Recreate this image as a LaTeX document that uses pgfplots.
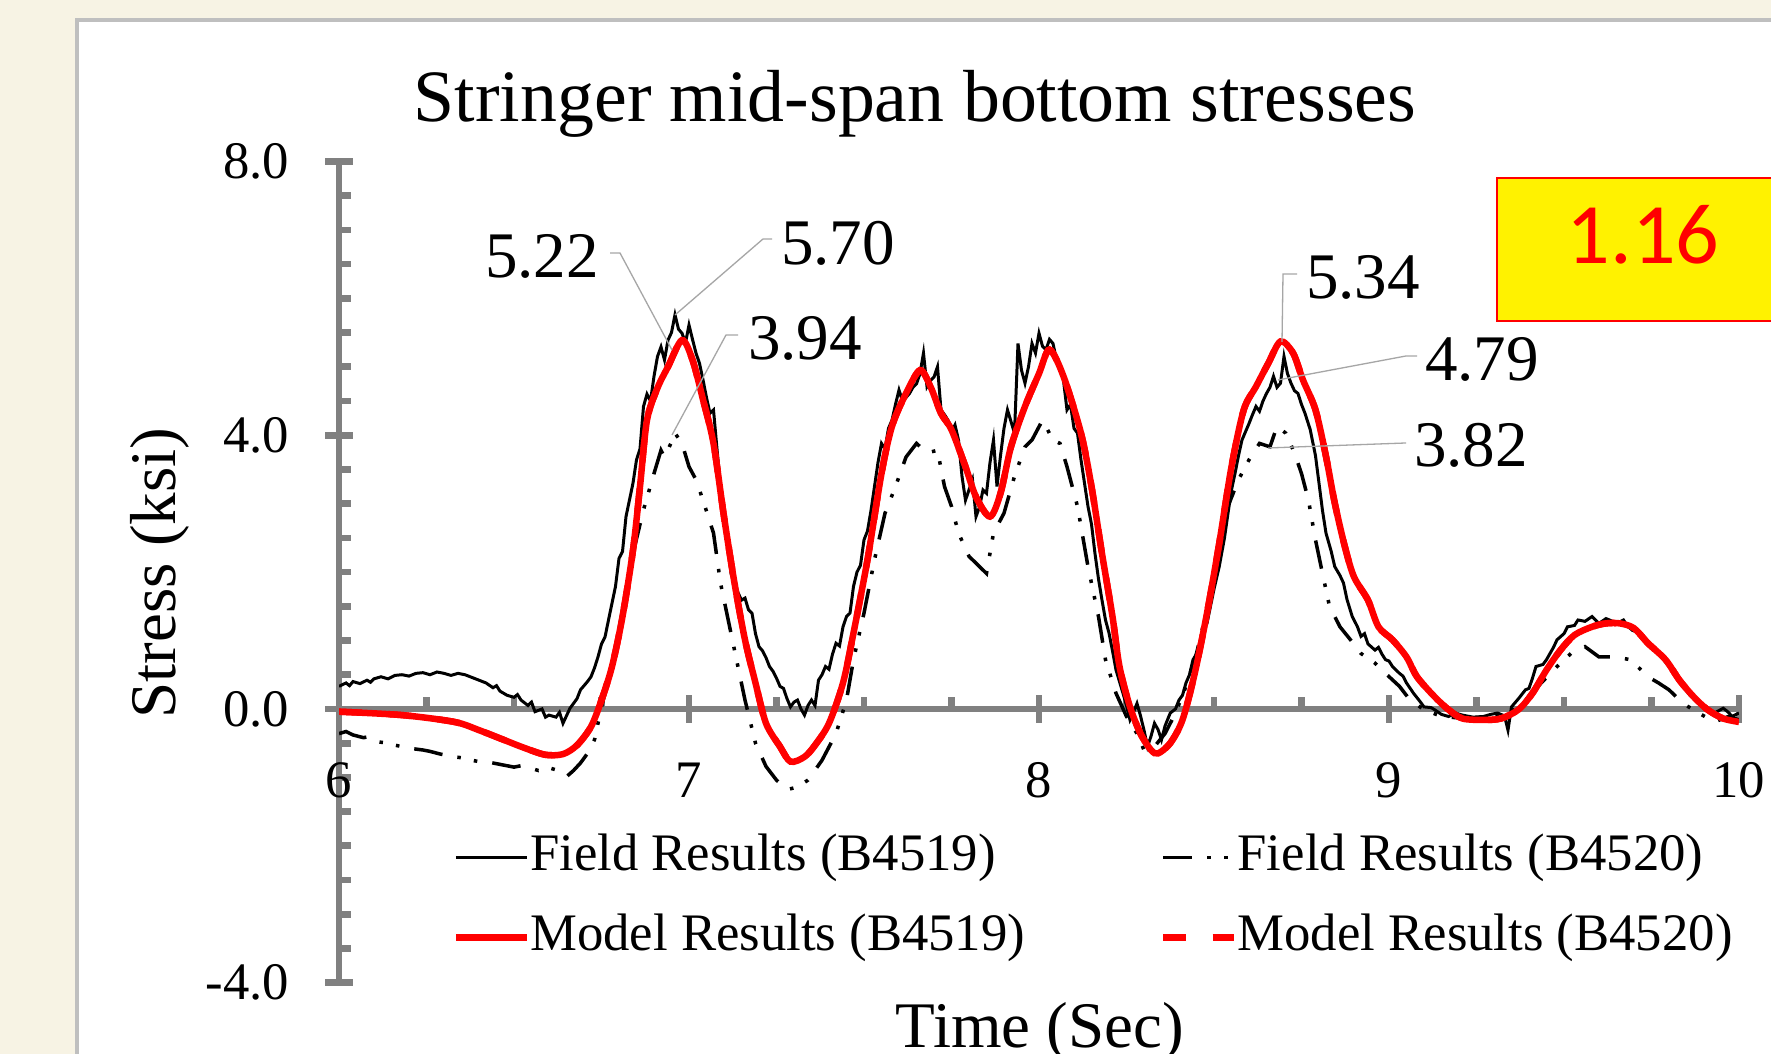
\documentclass[border=0pt]{standalone}
\usepackage{fontspec}
\setmainfont{Liberation Serif}
\newfontfamily\calibri{Carlito}
\usepackage{pgfplots}
\pgfplotsset{compat=1.18}
\definecolor{bgbeige}{HTML}{F7F3E4}
\definecolor{panelgray}{HTML}{BFBFBF}
\definecolor{axgray}{HTML}{808080}
\definecolor{leadgray}{HTML}{A6A6A6}
\begin{document}
\begin{tikzpicture}
\begin{scope}[x=0.1mm,y=-0.1mm,shift={(-339,-982.7)}]
\useasboundingbox (0,0) rectangle (1771,1054);
\clip (0,0) rectangle (1771,1054);
\fill[bgbeige] (0,0) rectangle (1771,1054);
\fill[white] (77,20) rectangle (1800,1100);
\draw[panelgray,line width=0.45mm] (77,1100) -- (77,20) -- (1800,20);
\end{scope}
\begin{axis}[
  at={(0,0)}, anchor=south west,
  scale only axis, width=140mm, height=82.12mm,
  xmin=6, xmax=10, ymin=-4, ymax=8,
  axis x line*=middle, axis y line*=left,
  hide obscured x ticks=false, hide obscured y ticks=false,
  axis line style={draw=axgray, line width=1.9pt},
  xtick={6,7,8,9,10}, xticklabels={6,7,8,9,10},
  ytick={-4,0,4,8}, yticklabels={-4.0,0.0,4.0,8.0},
  minor x tick num=3, minor y tick num=7,
  tick align=center,
  major tick length=2.8mm, minor tick length=1.15mm,
  tick style={draw=axgray, line width=1.9pt},
  minor x tick style={yshift=0.575mm},
  minor y tick style={xshift=0.575mm},
  xticklabel style={anchor=north, inner sep=0pt, yshift=-3.9mm, font=\fontsize{15}{18}\selectfont},
  yticklabel style={anchor=east, inner sep=0pt, xshift=-3.5mm, font=\fontsize{15}{18}\selectfont},
  legend columns=2,
  legend cell align=left,
  legend image code/.code={\draw[#1] (0mm,0mm) -- (7.1mm,0mm);},
  legend style={at={(0.0807,0.1835)}, anchor=north west, draw=none, fill=none, inner sep=0pt,
    row sep=3mm, column sep=0mm,
    nodes={inner sep=0pt, anchor=west, font=\fontsize{15}{18}\selectfont, text height=3.8mm, text depth=1.2mm},
    /tikz/every even column/.append style={column sep=13.5mm}},
]
\addplot[black, line width=0.85pt] coordinates {
(6.00,0.33)(6.02,0.38)(6.03,0.34)(6.04,0.40)(6.06,0.37)(6.08,0.42)(6.09,0.39)(6.10,0.44)(6.12,0.47)(6.14,0.44)(6.16,0.49)(6.18,0.50)(6.20,0.48)(6.22,0.52)(6.24,0.53)(6.26,0.50)(6.28,0.54)(6.30,0.52)(6.32,0.49)(6.34,0.52)(6.36,0.50)(6.38,0.46)(6.40,0.42)(6.42,0.38)(6.44,0.31)(6.45,0.34)(6.46,0.26)(6.48,0.20)(6.50,0.17)(6.51,0.21)(6.52,0.13)(6.54,0.05)(6.55,0.10)(6.56,-0.04)(6.58,0.00)(6.59,-0.12)(6.60,-0.09)(6.62,-0.12)(6.63,-0.05)(6.64,-0.21)(6.66,0.01)(6.68,0.15)(6.69,0.28)(6.71,0.40)(6.72,0.47)(6.73,0.60)(6.74,0.76)(6.75,0.95)(6.76,1.05)(6.77,1.30)(6.79,1.79)(6.80,2.20)(6.81,2.30)(6.82,2.81)(6.84,3.30)(6.85,3.64)(6.86,3.80)(6.87,4.42)(6.88,4.60)(6.89,4.50)(6.90,4.86)(6.91,5.15)(6.92,5.29)(6.93,5.10)(6.94,5.39)(6.95,5.50)(6.96,5.76)(6.97,5.55)(6.98,5.49)(6.99,5.35)(7.00,5.61)(7.01,5.40)(7.02,5.20)(7.03,5.05)(7.04,4.81)(7.05,4.55)(7.06,4.32)(7.07,4.37)(7.08,3.80)(7.09,3.25)(7.10,2.80)(7.11,2.50)(7.12,1.98)(7.13,1.85)(7.14,1.70)(7.15,1.59)(7.16,1.62)(7.17,1.45)(7.18,1.40)(7.19,1.10)(7.20,0.91)(7.21,0.85)(7.22,0.75)(7.23,0.62)(7.24,0.55)(7.25,0.45)(7.26,0.33)(7.27,0.30)(7.28,0.15)(7.29,0.03)(7.30,0.10)(7.31,0.13)(7.32,0.00)(7.33,-0.09)(7.34,0.05)(7.35,0.13)(7.36,0.05)(7.37,0.42)(7.38,0.50)(7.39,0.62)(7.40,0.58)(7.41,0.80)(7.42,0.96)(7.43,0.92)(7.44,1.20)(7.45,1.35)(7.46,1.40)(7.47,1.79)(7.48,2.00)(7.49,2.10)(7.50,2.47)(7.51,2.60)(7.52,2.90)(7.53,3.25)(7.54,3.60)(7.55,3.88)(7.56,3.80)(7.57,4.10)(7.58,4.22)(7.59,4.45)(7.60,4.66)(7.61,4.50)(7.62,4.55)(7.63,4.61)(7.64,4.70)(7.65,4.75)(7.66,4.90)(7.67,5.20)(7.68,4.71)(7.69,4.80)(7.70,4.85)(7.71,5.00)(7.72,4.37)(7.73,4.30)(7.74,4.22)(7.75,4.05)(7.76,4.15)(7.77,3.93)(7.78,3.40)(7.79,3.05)(7.80,3.20)(7.81,3.35)(7.82,2.81)(7.83,2.95)(7.84,3.20)(7.85,3.15)(7.86,3.60)(7.87,3.93)(7.88,3.25)(7.89,3.70)(7.90,4.10)(7.91,4.37)(7.92,4.20)(7.93,4.03)(7.94,5.34)(7.95,4.95)(7.96,4.76)(7.97,5.00)(7.98,5.34)(7.99,5.20)(8.00,5.49)(8.01,5.30)(8.02,5.25)(8.03,5.40)(8.04,5.34)(8.05,5.10)(8.06,5.00)(8.07,4.80)(8.08,4.37)(8.09,4.45)(8.10,4.10)(8.11,4.03)(8.12,3.64)(8.13,3.30)(8.14,2.96)(8.15,2.70)(8.16,2.27)(8.17,1.90)(8.18,1.59)(8.19,1.30)(8.20,1.11)(8.21,0.85)(8.22,0.57)(8.23,0.40)(8.24,0.23)(8.25,0.05)(8.26,-0.16)(8.27,-0.05)(8.28,0.08)(8.29,-0.10)(8.30,-0.31)(8.31,-0.55)(8.32,-0.40)(8.33,-0.21)(8.34,-0.30)(8.35,-0.45)(8.36,-0.25)(8.375,-0.06)(8.39,0.00)(8.40,0.13)(8.41,0.20)(8.42,0.38)(8.43,0.50)(8.44,0.72)(8.45,0.80)(8.46,0.95)(8.47,1.15)(8.48,1.25)(8.49,1.50)(8.50,1.75)(8.515,2.08)(8.53,2.50)(8.54,2.86)(8.55,3.20)(8.56,3.44)(8.57,3.70)(8.58,3.93)(8.59,4.05)(8.60,4.17)(8.61,4.30)(8.62,4.42)(8.63,4.35)(8.64,4.50)(8.65,4.61)(8.66,4.70)(8.67,4.86)(8.68,4.70)(8.69,4.76)(8.70,5.15)(8.71,4.90)(8.72,4.76)(8.73,4.65)(8.74,4.61)(8.75,4.45)(8.76,4.32)(8.775,4.08)(8.79,3.70)(8.80,3.30)(8.81,2.90)(8.82,2.57)(8.835,2.30)(8.845,2.08)(8.86,1.95)(8.87,1.84)(8.88,1.60)(8.895,1.35)(8.91,1.20)(8.92,1.06)(8.93,1.10)(8.94,0.95)(8.96,0.86)(8.97,0.90)(8.98,0.80)(8.99,0.72)(9.00,0.70)(9.01,0.62)(9.03,0.52)(9.04,0.48)(9.05,0.38)(9.07,0.23)(9.09,0.10)(9.10,0.03)(9.12,0.02)(9.13,-0.01)(9.15,-0.08)(9.17,-0.11)(9.19,-0.06)(9.21,-0.09)(9.24,-0.12)(9.27,-0.11)(9.29,-0.08)(9.31,-0.06)(9.33,-0.10)(9.34,-0.31)(9.35,0.03)(9.37,0.15)(9.39,0.28)(9.40,0.30)(9.41,0.45)(9.42,0.62)(9.44,0.65)(9.45,0.72)(9.47,0.90)(9.48,1.01)(9.50,1.10)(9.51,1.20)(9.53,1.22)(9.54,1.30)(9.56,1.28)(9.58,1.35)(9.59,1.30)(9.60,1.25)(9.62,1.32)(9.63,1.30)(9.65,1.25)(9.67,1.30)(9.68,1.22)(9.695,1.15)(9.71,1.12)(9.72,1.06)(9.74,0.95)(9.76,0.86)(9.78,0.75)(9.80,0.62)(9.82,0.48)(9.84,0.33)(9.86,0.20)(9.885,0.08)(9.91,0.00)(9.93,-0.06)(9.955,0.01)(9.97,-0.05)(9.98,-0.11)(10.00,-0.06)
};
\addlegendentry{Field Results (B4519)}
\addplot[black, line width=1pt, dash pattern=on 8.2pt off 4.3pt on 1pt off 3.8pt on 1pt off 4.3pt] coordinates {
(6.00,-0.36)(6.02,-0.33)(6.04,-0.38)(6.07,-0.42)(6.09,-0.40)(6.11,-0.48)(6.14,-0.50)(6.16,-0.53)(6.18,-0.55)(6.21,-0.58)(6.24,-0.60)(6.26,-0.62)(6.29,-0.66)(6.31,-0.68)(6.33,-0.70)(6.36,-0.72)(6.38,-0.75)(6.40,-0.77)(6.43,-0.78)(6.45,-0.80)(6.47,-0.82)(6.50,-0.85)(6.52,-0.83)(6.55,-0.87)(6.57,-0.90)(6.60,-0.86)(6.62,-0.89)(6.64,-0.95)(6.65,-0.99)(6.67,-0.90)(6.69,-0.79)(6.71,-0.65)(6.73,-0.45)(6.75,0.03)(6.78,0.62)(6.81,1.45)(6.84,2.27)(6.87,2.91)(6.90,3.44)(6.92,3.78)(6.93,3.68)(6.95,3.90)(6.96,4.03)(6.98,3.88)(7.00,3.54)(7.02,3.35)(7.04,3.05)(7.07,2.57)(7.09,1.84)(7.11,1.35)(7.13,0.86)(7.16,0.13)(7.19,-0.50)(7.22,-0.84)(7.25,-1.04)(7.28,-1.18)(7.31,-1.14)(7.34,-1.04)(7.38,-0.75)(7.42,-0.36)(7.45,0.13)(7.47,0.72)(7.50,1.40)(7.53,2.18)(7.56,2.86)(7.59,3.25)(7.62,3.68)(7.65,3.88)(7.68,3.74)(7.71,3.78)(7.73,3.25)(7.75,2.96)(7.77,2.57)(7.80,2.23)(7.83,2.08)(7.85,1.98)(7.87,2.57)(7.90,2.86)(7.93,3.40)(7.96,3.83)(7.98,3.93)(8.01,4.22)(8.04,3.93)(8.06,3.88)(8.08,3.54)(8.11,2.96)(8.14,2.08)(8.17,1.35)(8.19,0.72)(8.22,0.23)(8.25,-0.11)(8.28,-0.36)(8.30,-0.60)(8.33,-0.55)(8.36,-0.36)(8.39,-0.06)(8.42,0.33)(8.45,0.81)(8.48,1.45)(8.515,2.27)(8.54,2.96)(8.57,3.35)(8.60,3.64)(8.63,3.88)(8.66,3.83)(8.68,4.13)(8.705,4.03)(8.73,3.74)(8.75,3.44)(8.77,3.05)(8.79,2.47)(8.81,1.98)(8.83,1.50)(8.86,1.20)(8.89,1.01)(8.92,0.81)(8.96,0.67)(8.99,0.52)(9.03,0.33)(9.06,0.13)(9.10,-0.01)(9.15,-0.11)(9.22,-0.14)(9.29,-0.11)(9.35,-0.04)(9.39,0.13)(9.435,0.38)(9.48,0.62)(9.52,0.81)(9.56,0.91)(9.60,0.76)(9.645,0.76)(9.69,0.72)(9.72,0.57)(9.74,0.47)(9.77,0.38)(9.80,0.28)(9.84,0.08)(9.885,-0.06)(9.93,-0.19)(9.97,-0.11)(10.00,-0.16)
};
\addlegendentry{Field Results (B4520)}
\addplot[red, line width=1.85pt, smooth, tension=0.5] coordinates {
(6.00,-0.04)(6.18,-0.09)(6.33,-0.19)(6.40,-0.31)(6.47,-0.45)(6.53,-0.57)(6.59,-0.67)(6.64,-0.66)(6.68,-0.53)(6.72,-0.26)(6.75,0.13)(6.78,0.62)(6.81,1.35)(6.84,2.32)(6.86,3.25)(6.88,4.22)(6.91,4.69)(6.94,5.00)(6.98,5.39)(7.01,5.10)(7.04,4.52)(7.07,3.88)(7.10,2.81)(7.13,1.84)(7.16,1.01)(7.19,0.38)(7.22,-0.21)(7.26,-0.55)(7.29,-0.77)(7.33,-0.70)(7.36,-0.53)(7.40,-0.21)(7.44,0.38)(7.47,1.11)(7.51,2.18)(7.55,3.44)(7.58,4.13)(7.62,4.61)(7.66,4.95)(7.69,4.71)(7.72,4.32)(7.75,4.08)(7.79,3.54)(7.82,3.10)(7.86,2.81)(7.89,3.15)(7.92,3.83)(7.96,4.42)(8.00,4.90)(8.03,5.25)(8.07,4.86)(8.12,4.03)(8.15,3.25)(8.18,2.27)(8.21,1.35)(8.23,0.62)(8.26,0.03)(8.29,-0.36)(8.32,-0.60)(8.34,-0.65)(8.375,-0.50)(8.41,-0.16)(8.445,0.52)(8.48,1.40)(8.515,2.42)(8.55,3.54)(8.585,4.37)(8.62,4.71)(8.655,5.05)(8.69,5.37)(8.726,5.20)(8.754,4.81)(8.79,4.37)(8.82,3.69)(8.845,3.01)(8.874,2.37)(8.90,1.93)(8.94,1.59)(8.97,1.20)(9.01,1.01)(9.05,0.76)(9.08,0.47)(9.13,0.18)(9.17,-0.01)(9.21,-0.14)(9.27,-0.16)(9.32,-0.14)(9.37,-0.01)(9.41,0.23)(9.45,0.57)(9.49,0.86)(9.53,1.08)(9.58,1.20)(9.62,1.25)(9.66,1.25)(9.70,1.18)(9.74,0.96)(9.79,0.72)(9.83,0.42)(9.87,0.18)(9.91,-0.01)(9.955,-0.14)(10.00,-0.19)
};
\addlegendentry{Model Results (B4519)}
\addplot[red, line width=1.85pt, smooth, tension=0.5, dash pattern=on 6.5pt off 7.5pt] coordinates {
(6.00,-0.04)(6.18,-0.09)(6.33,-0.19)(6.40,-0.31)(6.47,-0.45)(6.53,-0.57)(6.59,-0.67)(6.64,-0.66)(6.68,-0.53)(6.72,-0.26)(6.75,0.13)(6.78,0.62)(6.81,1.35)(6.84,2.32)(6.86,3.25)(6.88,4.22)(6.91,4.69)(6.94,5.00)(6.98,5.39)(7.01,5.10)(7.04,4.52)(7.07,3.88)(7.10,2.81)(7.13,1.84)(7.16,1.01)(7.19,0.38)(7.22,-0.21)(7.26,-0.55)(7.29,-0.77)(7.33,-0.70)(7.36,-0.53)(7.40,-0.21)(7.44,0.38)(7.47,1.11)(7.51,2.18)(7.55,3.44)(7.58,4.13)(7.62,4.61)(7.66,4.95)(7.69,4.71)(7.72,4.32)(7.75,4.08)(7.79,3.54)(7.82,3.10)(7.86,2.81)(7.89,3.15)(7.92,3.83)(7.96,4.42)(8.00,4.90)(8.03,5.25)(8.07,4.86)(8.12,4.03)(8.15,3.25)(8.18,2.27)(8.21,1.35)(8.23,0.62)(8.26,0.03)(8.29,-0.36)(8.32,-0.60)(8.34,-0.65)(8.375,-0.50)(8.41,-0.16)(8.445,0.52)(8.48,1.40)(8.515,2.42)(8.55,3.54)(8.585,4.37)(8.62,4.71)(8.655,5.05)(8.69,5.37)(8.726,5.20)(8.754,4.81)(8.79,4.37)(8.82,3.69)(8.845,3.01)(8.874,2.37)(8.90,1.93)(8.94,1.59)(8.97,1.20)(9.01,1.01)(9.05,0.76)(9.08,0.47)(9.13,0.18)(9.17,-0.01)(9.21,-0.14)(9.27,-0.16)(9.32,-0.14)(9.37,-0.01)(9.41,0.23)(9.45,0.57)(9.49,0.86)(9.53,1.08)(9.58,1.20)(9.62,1.25)(9.66,1.25)(9.70,1.18)(9.74,0.96)(9.79,0.72)(9.83,0.42)(9.87,0.18)(9.91,-0.01)(9.955,-0.14)(10.00,-0.19)
};
\addlegendentry{Model Results (B4520)}
\end{axis}
\begin{scope}[x=0.1mm,y=-0.1mm,shift={(-339,-982.7)}]
\clip (0,0) rectangle (1771,1054);
% title and axis labels
\node[anchor=base, inner sep=0pt, font=\fontsize{21}{25}\selectfont] at (915,122) {Stringer mid-span bottom stresses};
\node[anchor=base, inner sep=0pt, rotate=90, font=\fontsize{18.5}{22}\selectfont] at (175,573) {Stress (ksi)};
\node[anchor=base, inner sep=0pt, font=\fontsize{18.5}{22}\selectfont] at (1040,1048) {Time (Sec)};
% yellow box
\draw[red, line width=0.2mm, fill=yellow] (1497,178) rectangle (1800,321);
\node[inner sep=0pt, text=red, font=\calibri\fontsize{24.5}{28}\selectfont] at (1643,235) {1.16};
% data callouts
\draw[leadgray, line width=0.13mm] (610,253) -- (620,253) -- (672,350);
\draw[leadgray, line width=0.13mm] (772,239) -- (763,239) -- (675,315);
\draw[leadgray, line width=0.13mm] (738,335) -- (726,335) -- (672,435);
\draw[leadgray, line width=0.13mm] (1297,274) -- (1283,274) -- (1282,342);
\draw[leadgray, line width=0.13mm] (1417,356) -- (1406,356) -- (1278,380);
\draw[leadgray, line width=0.13mm] (1406,443) -- (1268,448);
\begin{scope}[every node/.style={inner sep=0pt, font=\fontsize{18.5}{22}\selectfont}]
\node at (542,256) {5.22};
\node at (838,243) {5.70};
\node at (805,338) {3.94};
\node at (1363,277) {5.34};
\node at (1482,359) {4.79};
\node at (1471,445) {3.82};
\end{scope}
\end{scope}
\end{tikzpicture}
\end{document}
